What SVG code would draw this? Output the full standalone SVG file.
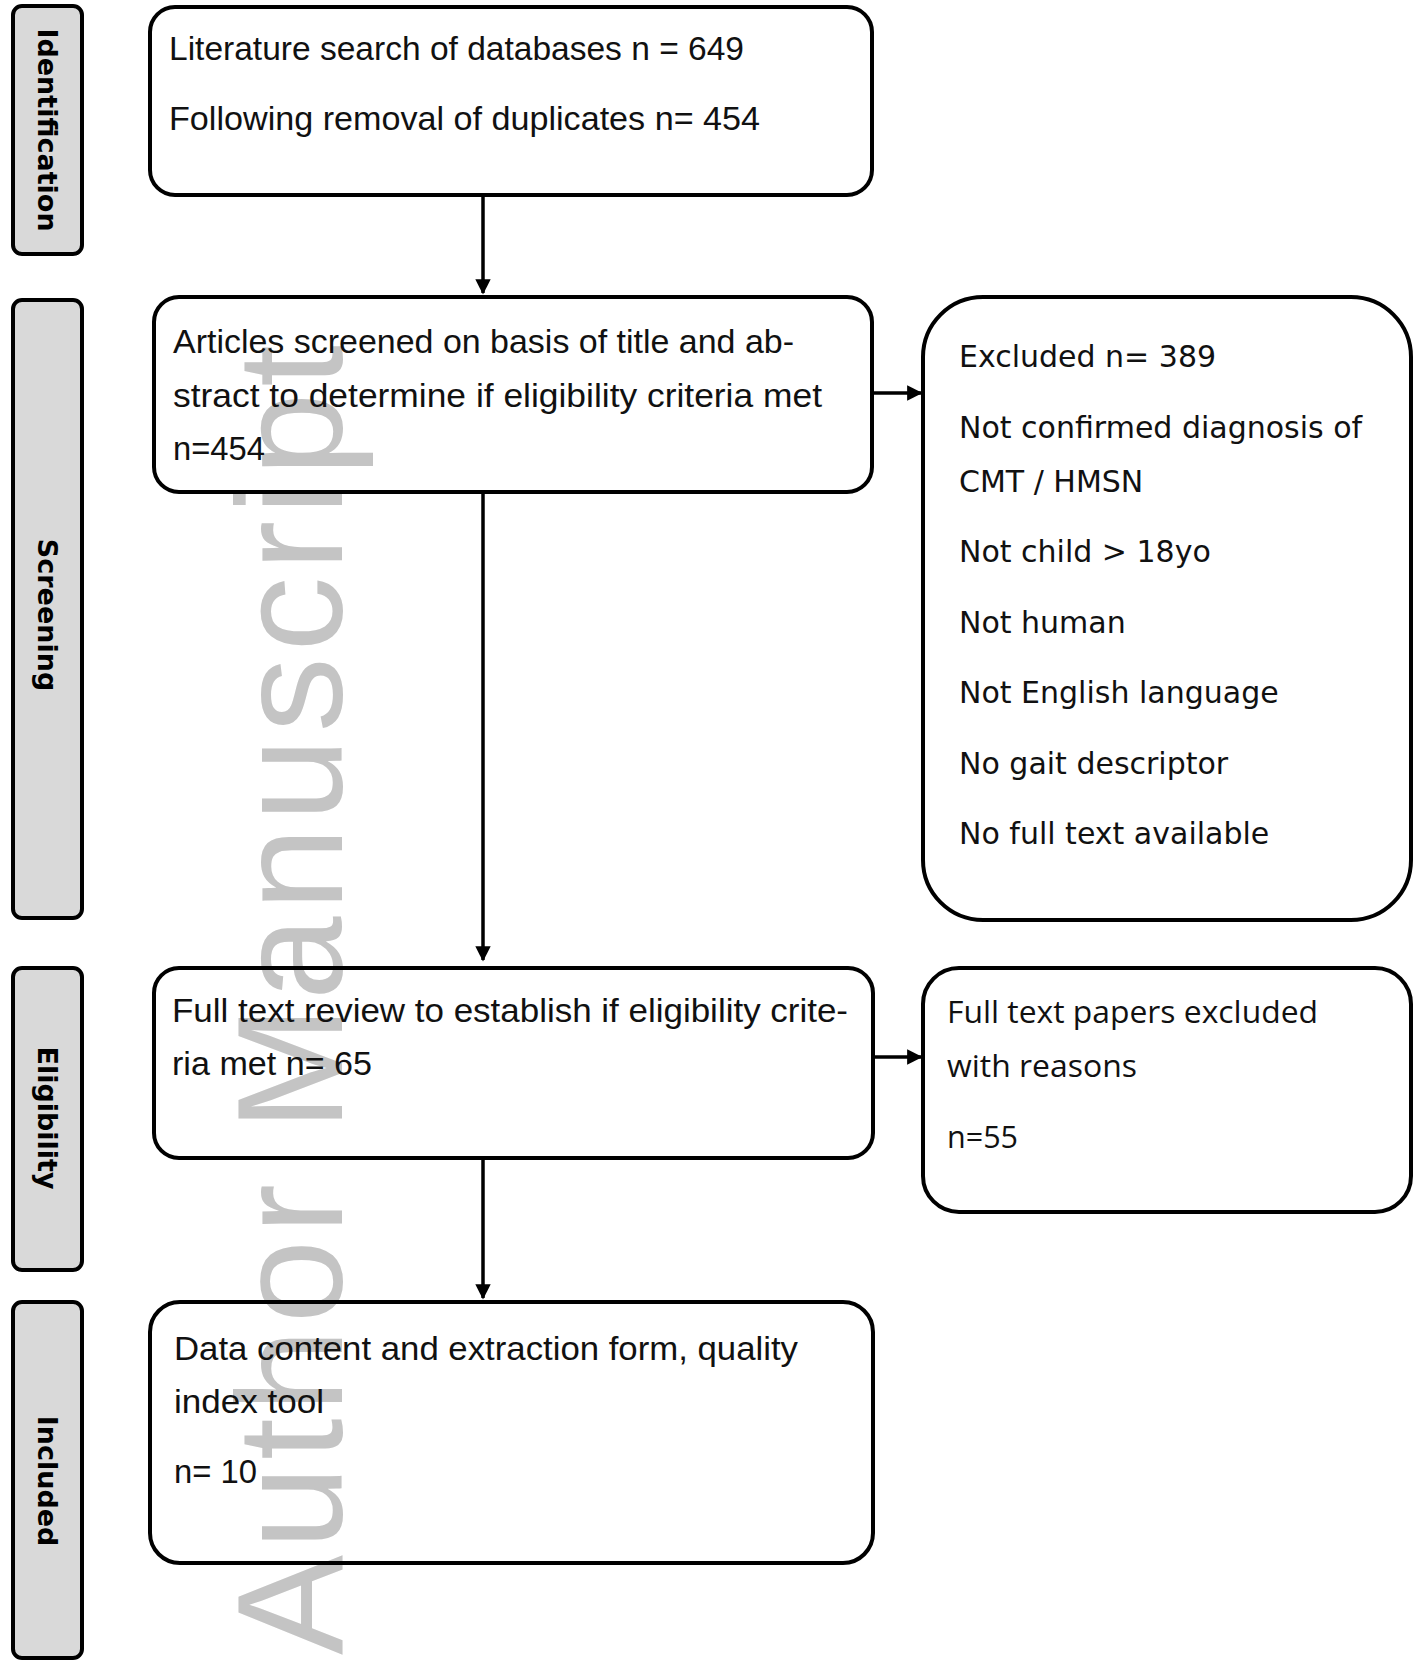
<svg xmlns="http://www.w3.org/2000/svg" width="1415" height="1662" viewBox="0 0 1415 1662">
<style>
.side{fill:#d9d9d9;stroke:#000;stroke-width:4}
.box{fill:none;stroke:#000;stroke-width:4}
.lbl{font-family:"DejaVu Sans",Verdana,sans-serif;font-weight:bold;font-size:27px;fill:#000;text-anchor:middle}
.t1{font-family:"Liberation Sans",Arial,sans-serif;font-size:34px;fill:#111}
.t2{font-family:"DejaVu Sans",Verdana,sans-serif;font-size:30px;fill:#111}
.t3{font-family:"Open Sans","Noto Sans",sans-serif;font-size:31px;fill:#111}
.wm{font-family:"Liberation Sans",Arial,sans-serif;font-size:150px;fill:#c4c4c4}
.conn{stroke:#000;stroke-width:3.5;fill:none}
</style>
<defs>
<marker id="ah" viewBox="0 0 10 10" refX="9" refY="5" markerWidth="4.4" markerHeight="4.4" markerUnits="strokeWidth" orient="auto">
<path d="M0,0 L10,5 L0,10 z" fill="#000"/>
</marker>
</defs>
<rect width="1415" height="1662" fill="#fff"/>
<text class="wm" transform="translate(342,1655) rotate(-90)" textLength="1310" lengthAdjust="spacing">Author Manuscript</text>

<g id="stage-identification">
<rect class="side" x="13" y="6" width="69" height="248" rx="9"/>
<text class="lbl" transform="translate(38,130) rotate(90)">Identification</text>
</g>
<g id="stage-screening">
<rect class="side" x="13" y="300" width="69" height="618" rx="9"/>
<text class="lbl" transform="translate(38,615) rotate(90)">Screening</text>
</g>
<g id="stage-eligibility">
<rect class="side" x="13" y="968" width="69" height="302" rx="9"/>
<text class="lbl" transform="translate(38,1118) rotate(90)">Eligibility</text>
</g>
<g id="stage-included">
<rect class="side" x="13" y="1302" width="69" height="356" rx="9"/>
<text class="lbl" transform="translate(38,1481) rotate(90)">Included</text>
</g>

<g id="n-identification">
<rect class="box" x="150" y="7" width="722" height="188" rx="25"/>
<text class="t1" x="169" y="60" textLength="575" lengthAdjust="spacingAndGlyphs">Literature search of databases n = 649</text>
<text class="t1" x="169" y="130" textLength="591" lengthAdjust="spacingAndGlyphs">Following removal of duplicates n= 454</text>
</g>
<g id="n-screening">
<rect class="box" x="154" y="297" width="718" height="195" rx="25"/>
<text class="t1" x="173" y="353" textLength="621" lengthAdjust="spacingAndGlyphs">Articles screened on basis of title and ab-</text>
<text class="t1" x="173" y="407" textLength="649" lengthAdjust="spacingAndGlyphs">stract to determine if eligibility criteria met</text>
<text class="t1" x="173" y="460" textLength="92" lengthAdjust="spacingAndGlyphs">n=454</text>
</g>
<g id="n-excluded">
<rect class="box" x="923" y="297" width="488" height="623" rx="60"/>
<text class="t2" x="959" y="367">Excluded n= 389</text>
<text class="t2" x="959" y="438">Not confirmed diagnosis of</text>
<text class="t2" x="959" y="492">CMT / HMSN</text>
<text class="t2" x="959" y="562">Not child &gt; 18yo</text>
<text class="t2" x="959" y="633">Not human</text>
<text class="t2" x="959" y="703">Not English language</text>
<text class="t2" x="959" y="774">No gait descriptor</text>
<text class="t2" x="959" y="844">No full text available</text>
</g>
<g id="n-fulltext">
<rect class="box" x="154" y="968" width="719" height="190" rx="25"/>
<text class="t1" x="172" y="1022" textLength="676" lengthAdjust="spacingAndGlyphs">Full text review to establish if eligibility crite-</text>
<text class="t1" x="172" y="1075" textLength="200" lengthAdjust="spacingAndGlyphs">ria met n= 65</text>
</g>
<g id="n-fulltext-excluded">
<rect class="box" x="923" y="968" width="488" height="244" rx="36"/>
<text class="t3" x="947" y="1023" textLength="371" lengthAdjust="spacingAndGlyphs">Full text papers excluded</text>
<text class="t3" x="947" y="1077" textLength="190" lengthAdjust="spacingAndGlyphs">with reasons</text>
<text class="t3" x="947" y="1148" textLength="71" lengthAdjust="spacingAndGlyphs">n=55</text>
</g>
<g id="n-included">
<rect class="box" x="150" y="1302" width="723" height="261" rx="30"/>
<text class="t1" x="174" y="1360" textLength="624" lengthAdjust="spacingAndGlyphs">Data content and extraction form, quality</text>
<text class="t1" x="174" y="1413" textLength="150" lengthAdjust="spacingAndGlyphs">index tool</text>
<text class="t1" x="174" y="1483" textLength="83" lengthAdjust="spacingAndGlyphs">n= 10</text>
</g>

<g id="connectors">
<line class="conn" x1="483" y1="195" x2="483" y2="293" marker-end="url(#ah)"/>
<line class="conn" x1="483" y1="492" x2="483" y2="960" marker-end="url(#ah)"/>
<line class="conn" x1="483" y1="1158" x2="483" y2="1298" marker-end="url(#ah)"/>
<line class="conn" x1="872" y1="393" x2="921" y2="393" marker-end="url(#ah)"/>
<line class="conn" x1="873" y1="1057" x2="921" y2="1057" marker-end="url(#ah)"/>
</g>
</svg>
